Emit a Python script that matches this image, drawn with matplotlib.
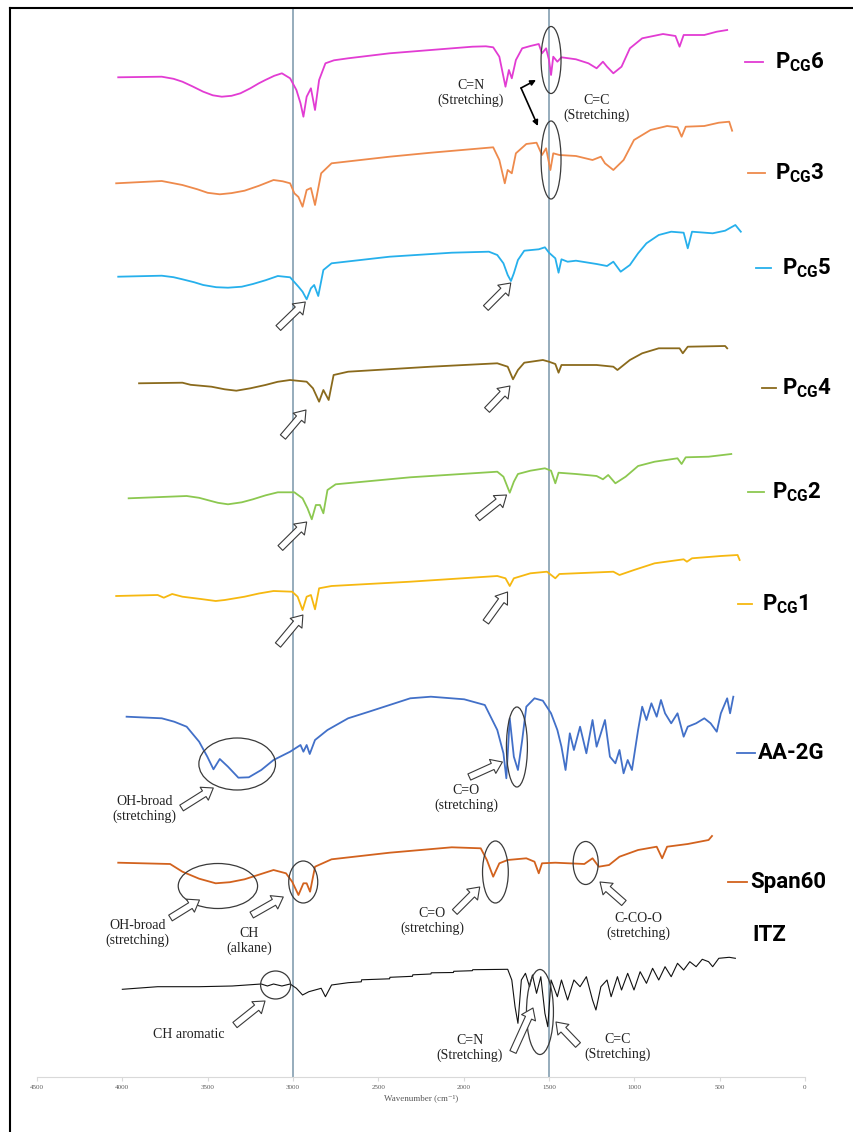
import numpy as np
import matplotlib.pyplot as plt
from matplotlib.patches import Ellipse
from matplotlib.lines import Line2D

plt.rcParams['mathtext.fontset'] = 'custom'
plt.rcParams['mathtext.rm'] = 'Roboto'
plt.rcParams['mathtext.bf'] = 'Roboto:bold'

# spectra: wavenumber (cm-1) and relative transmittance (a.u.)
pcg6_wn = [4024, 3769, 3700, 3648, 3590, 3526, 3470, 3417, 3360, 3308, 3250, 3200, 3162, 3110, 3065, 3017,
           2980, 2956, 2939, 2920, 2895, 2871, 2847, 2810, 2760, 2677, 2434, 2192, 1949, 1870, 1827, 1791,
           1767, 1755, 1735, 1718, 1694, 1657, 1609, 1560, 1541, 1517, 1500, 1488, 1475, 1451, 1427, 1342,
           1269, 1221, 1184, 1160, 1123, 1075, 1026, 954, 832, 759, 735, 711, 590, 517, 456]
pcg6_t = [0, 0.6, -1.5, -4.4, -9, -14.4, -18, -19.4, -18.5, -16, -11, -6, -2.7, 1.5, 4, -1,
          -12.7, -26, -39.4, -19.4, -11, -32.7, -2.7, 14, 17, 19, 24, 27.3, 30.6, 31, 30, 20.6,
          0.6, -9.4, 7.3, -1, 17.3, 29, 31.3, 33.3, 24, 29, 17.3, 2.3, 20.6, 15.6, 20, 18,
          14, 9, 15.6, 10.6, 4, 10.6, 29, 39, 43.3, 41.3, 30.6, 42.3, 42.3, 45.6, 47.3]

pcg3_wn = [4036, 3769, 3648, 3560, 3500, 3429, 3360, 3284, 3200, 3114, 3060, 3017, 2992, 2968, 2944, 2920,
           2895, 2871, 2835, 2774, 2434, 2192, 1827, 1791, 1759, 1742, 1718, 1694, 1633, 1573, 1541, 1517,
           1492, 1475, 1439, 1342, 1245, 1196, 1172, 1123, 1063, 1002, 905, 808, 747, 723, 699, 590, 505,
           444, 427]
pcg3_t = [0, 2.3, -1.7, -6, -9.5, -11, -9.8, -7.4, -2.5, 3.3, 2, 0, -10, -13.7, -23.4, -6.7,
          -4.7, -21.7, 10, 20, 26.6, 30.6, 36, 23.3, 0, 13.3, 10, 30, 39.3, 40.6, 28.3, 35,
          13.3, 30, 28.3, 27.3, 23.3, 26.6, 20, 13.3, 23.3, 43.3, 53.3, 57.3, 56, 46.6, 56.6, 57.3, 60.6,
          61.6, 52.6]

pcg5_wn = [4024, 3769, 3700, 3648, 3580, 3526, 3450, 3381, 3300, 3235, 3160, 3089, 3017, 2968, 2944, 2920,
           2895, 2876, 2852, 2822, 2774, 2434, 2070, 1852, 1803, 1767, 1742, 1723, 1706, 1682, 1645, 1560,
           1524, 1500, 1463, 1444, 1427, 1391, 1342, 1221, 1160, 1123, 1080, 1026, 978, 929, 857, 784, 711,
           687, 662, 541, 468, 408, 376]
pcg5_t = [0, 1, -0.5, -2.6, -5.5, -8.3, -10.5, -11, -10, -7.3, -3.5, 0.7, -0.6, -10, -15, -22.6,
          -11.6, -8.3, -19.3, 6.7, 13.4, 20, 24, 25, 21.7, 13.4, 1.7, -4.3, 3.4, 16.7, 26, 27.4,
          29.4, 24, 18.4, 4, 17.4, 15, 16, 12.7, 10.7, 15, 5, 11.7, 23.4, 33.4, 41.7, 45, 44,
          28.4, 45, 43.4, 46, 51.7, 45]

pcg4_wn = [3902, 3648, 3600, 3478, 3400, 3332, 3250, 3162, 3090, 3017, 2920, 2883, 2847, 2822, 2791, 2762,
           2677, 2192, 1803, 1742, 1711, 1682, 1645, 1536, 1500, 1463, 1444, 1427, 1221, 1123, 1099, 1026,
           954, 857, 735, 716, 687, 468, 456]
pcg4_t = [0, 0.6, -1.5, -3.4, -6, -7.4, -5, -1.7, 1.5, 3.3, 1.6, -5, -18.4, -6.7, -16.7, 8.3,
          11.6, 16.6, 20, 16.6, 4, 13.3, 20.6, 23.3, 21.6, 19.3, 10.6, 18.3, 18.3, 16.6, 13.3, 23.3,
          30, 35, 35, 30, 36.6, 37.3, 35]

pcg2_wn = [3963, 3623, 3550, 3502, 3440, 3381, 3300, 3235, 3160, 3089, 2992, 2944, 2915, 2890, 2866, 2842,
           2822, 2798, 2750, 2313, 1803, 1767, 1730, 1706, 1682, 1609, 1524, 1488, 1463, 1444, 1342, 1221,
           1184, 1153, 1111, 1051, 978, 881, 747, 723, 699, 565, 432]
pcg2_t = [0, 2.3, 0.5, -1.7, -4.5, -6, -4, -1, 3, 6, 6, 0, -10, -21, -6.7, -6.7,
          -15, 8.3, 14, 21, 26.6, 21.6, 5.6, 16.6, 24.3, 27.6, 30, 27.6, 15, 25.6, 24.3, 22.3,
          19, 23.3, 15, 21.6, 32.3, 36.6, 40, 34.3, 41, 41.6, 44.3]

pcg1_wn = [4036, 3793, 3757, 3708, 3648, 3540, 3453, 3400, 3284, 3200, 3114, 3005, 2973, 2944, 2920, 2895,
           2871, 2847, 2774, 2313, 1803, 1755, 1730, 1706, 1609, 1512, 1463, 1439, 1123, 1087, 1002, 881,
           711, 692, 662, 493, 395, 383]
pcg1_t = [0, 1, -1.7, 2, -0.7, -3, -5, -4, -0.7, 2.5, 5, 4.3, -0.7, -14, -0.7, 1,
          -13.3, 7.7, 10, 14.3, 20, 17.7, 10, 17.7, 22.7, 24.3, 17.7, 22, 24.3, 21, 26, 32.7,
          36.7, 34.3, 37.7, 40, 41, 36]

aa2g_wn = [3975, 3769, 3696, 3623, 3550, 3502, 3466, 3429, 3381, 3320, 3259, 3186, 3114, 3017, 2956, 2939,
           2920, 2902, 2871, 2798, 2677, 2555, 2434, 2313, 2192, 1997, 1876, 1803, 1767, 1750, 1730, 1706,
           1682, 1657, 1633, 1585, 1536, 1488, 1451, 1427, 1403, 1378, 1354, 1318, 1281, 1245, 1221, 1196,
           1172, 1143, 1111, 1087, 1063, 1039, 1014, 978, 954, 929, 900, 869, 844, 820, 784, 747, 711, 687,
           638, 590, 553, 517, 493, 456, 439, 420]
aa2g_t = [0, -1.6, -5, -10, -25, -40, -52.6, -42.3, -50, -61, -60.6, -53.3, -43.3, -35, -28.3, -35,
          -28.3, -37.3, -23.3, -13.3, -1.6, 5, 11.7, 18.4, 20, 17.4, 11.7, -13.3, -36.6, -61.6, -1.6, -40,
          -53.3, -23.3, 10, 18.4, 16, 3.4, -13.3, -30, -53.3, -16.6, -33.3, -10, -36.6, -3.3, -30, -16.6,
          -3.3, -40, -46.6, -33.3, -56.6, -43.3, -53.3, -13.3, 10, -3.3, 13.4, 0, 16.7, 3.4, -6.6, 3.4, -20, -10,
          -6.6, -1.6, -6.6, -15, 3.4, 18.4, 3.4, 20]

span_wn = [4024, 3720, 3648, 3550, 3453, 3370, 3284, 3200, 3114, 3041, 3005, 2968, 2939, 2920, 2900, 2871,
           2774, 2434, 2070, 1900, 1864, 1827, 1791, 1742, 1633, 1585, 1560, 1541, 1463, 1293, 1245, 1208,
           1148, 1087, 978, 869, 837, 808, 687, 565, 545]
span_t = [0, -1.3, -9, -16, -20.6, -19.5, -16.6, -12, -7.3, -10.6, -19, -32.3, -20.6, -20.6, -29, -4,
          3.4, 10, 15.4, 14.4, 2.7, -14, -0.6, 2.7, 4.4, 1, -10.6, -0.6, 0, -1.3, 4.4, -4,
          -2.3, 6, 12.7, 16, 4.4, 16, 18.7, 22.7, 26.7]

itz_wn = [4000, 3793, 3550, 3356, 3186, 3150, 3114, 3065, 3017, 2980, 2944, 2907, 2871, 2835, 2810, 2774,
          2677, 2600, 2598, 2434, 2432, 2300, 2298, 2192, 2190, 2060, 2058, 1949, 1947, 1742, 1718, 1699,
          1682, 1662, 1638, 1614, 1597, 1573, 1548, 1524, 1507, 1488, 1451, 1427, 1391, 1354, 1318, 1281,
          1245, 1225, 1196, 1160, 1136, 1099, 1075, 1039, 1002, 966, 929, 893, 857, 820, 784, 747, 711,
          675, 638, 602, 565, 541, 505, 444, 408]
itz_t = [0, 2.6, 2.6, 3.3, 5.3, 3.3, 5.3, 3.3, 5.3, 1, -5.7, -2.4, -0.7, 1, -7.4, 4.3,
         6.6, 7.5, 9.5, 10.5, 12, 13, 14.5, 15.3, 16.5, 16.8, 18, 18.6, 19.6, 20, 9.3, -17.4,
         -34, 9.3, 16, 2.6, 14.3, -4, 12.6, -24, -37.4, 9.3, -7.4, 9.3, -10.7, 9.3, 2.6, 12.6,
         -10.7, -20.7, 2.6, 9.3, -7.4, 12.6, -0.7, 16, -0.7, 17.6, 6, 21, 9.3, 22.6, 12.6, 26, 19.3,
         27.6, 22.6, 30, 27.6, 22.6, 31, 32, 31]

names = ['PCG6', 'PCG3', 'PCG5', 'PCG4', 'PCG2', 'PCG1', 'AA-2G', 'Span60', 'ITZ']
labels = [r'$\mathbf{P_{CG}6}$', r'$\mathbf{P_{CG}3}$', r'$\mathbf{P_{CG}5}$', r'$\mathbf{P_{CG}4}$',
          r'$\mathbf{P_{CG}2}$', r'$\mathbf{P_{CG}1}$', 'AA-2G', 'Span60', 'ITZ']
all_wn = [pcg6_wn, pcg3_wn, pcg5_wn, pcg4_wn, pcg2_wn, pcg1_wn, aa2g_wn, span_wn, itz_wn]
all_t = [pcg6_t, pcg3_t, pcg5_t, pcg4_t, pcg2_t, pcg1_t, aa2g_t, span_t, itz_t]
ticks = [4500, 4000, 3500, 3000, 2500, 2000, 1500, 1000, 500, 0]

# stacking offsets and styling
levels = [999.7, 893.7, 800.3, 693.7, 578.7, 481, 360.3, 214.3, 87.7]
colors = ['#E23CD3', '#EE8A4C', '#26B0EC', '#8A6A1C', '#8CC850', '#F6B810', '#4270C8', '#D2621E', '#111111']
widths = [1.3, 1.3, 1.3, 1.3, 1.3, 1.3, 1.3, 1.3, 0.8]

fig = plt.figure(figsize=(8.54, 11.32), dpi=100)
ax = fig.add_axes([37 / 854, 55 / 1132, 768 / 854, 1077 / 1132])
ax.set_xlim(4500, 0)
ax.set_ylim(0, 1077)

for wn, t, lev, c, lw in zip(all_wn, all_t, levels, colors, widths):
    ax.plot(wn, lev + np.array(t), color=c, lw=lw, zorder=3)

for x in (3000, 1500):
    ax.axvline(x, ymin=0, ymax=1069 / 1077, color='#8DA6B6', lw=1.3, zorder=2)

serif = ['Liberation Serif', 'DejaVu Serif']
for s in ['top', 'left', 'right']:
    ax.spines[s].set_visible(False)
ax.spines['bottom'].set_color('#d9d9d9')
ax.set_yticks([])
ax.set_xticks(ticks)
ax.set_xticklabels([str(t) for t in ticks], fontsize=5, color='#595959', family=serif)
ax.tick_params(axis='x', length=3, color='#d9d9d9', pad=3)
ax.set_xlabel('Wavenumber (cm⁻¹)', fontsize=6.5, color='#595959', family=serif, labelpad=3)

# right side legend-like labels
dash_x = [(352, 246), (334, 234), (287, 199), (252, 170), (334, 240), (393, 311), (398, 293), (451, 340), None]
text_x = [176, 176, 135, 135, 193, 252, 275, 322, 311]
label_y = [1015, 904, 809, 689, 585, 473, 324, 195, 142]
for i in range(len(names)):
    if dash_x[i] is not None:
        ax.plot(dash_x[i], [label_y[i], label_y[i]], color=colors[i], lw=1.3, clip_on=False)
    ax.text(text_x[i], label_y[i], labels[i], fontsize=16, fontweight='bold', family='Roboto',
            va='center', ha='left', clip_on=False)

# ellipses
ell = [(1488, 1017, 117, 67), (1488, 917, 117, 78), (3327, 313, 449, 52), (1688, 330, 123, 80),
       (3440, 191, 465, 45), (2940, 195, 170, 42), (1814, 205, 151, 62), (1285, 214, 147, 43),
       (3102, 92, 176, 28), (1553, 65, 158, 85)]
for cx, cy, w, h in ell:
    ax.add_patch(Ellipse((cx, cy), w, h, fill=False, ec='#3a3a3a', lw=0.9, zorder=4))

# hollow block arrows (tail -> tip)
blocks = [((3086, 749), (2928, 775)), ((1870, 769), (1724, 794)),
          ((3059, 640), (2924, 667)), ((1863, 667), (1729, 691)),
          ((3074, 529), (2920, 555)), ((1919, 559), (1749, 582)),
          ((3088, 432), (2942, 462)), ((1870, 455), (1743, 485)),
          ((3653, 269), (3467, 289)), ((1967, 300), (1773, 315)),
          ((3718, 159), (3548, 177)), ((3242, 162), (3057, 180)),
          ((2052, 165), (1906, 190)), ((1061, 174), (1201, 195)),
          ((3340, 52), (3164, 76)), ((1711, 25), (1594, 69)), ((1330, 32), (1459, 55))]
for tail, tip in blocks:
    ax.annotate('', xy=tip, xytext=tail,
                arrowprops=dict(arrowstyle='simple,head_length=0.35,head_width=0.5,tail_width=0.22',
                                fc='white', ec='#3a3a3a', lw=0.8, mutation_scale=22,
                                shrinkA=0, shrinkB=0), zorder=5)

# bent double arrow between the two ellipses
for tip in [(1576, 997), (1565, 951)]:
    ax.annotate('', xy=tip, xytext=(1664, 989),
                arrowprops=dict(arrowstyle='-|>', color='black', lw=1.2, mutation_scale=8,
                                shrinkA=0, shrinkB=0))

notes = [('C=N\n(Stretching)', 1957, 984), ('C=C\n(Stretching)', 1219, 969),
         ('OH-broad\n(stretching)', 3868, 268), ('C=O\n(stretching)', 1987, 279),
         ('OH-broad\n(stretching)', 3909, 144), ('CH\n(alkane)', 3258, 136),
         ('C=O\n(stretching)', 2186, 156), ('C-CO-O\n(stretching)', 979, 151),
         ('CH aromatic', 3608, 42), ('C=N\n(Stretching)', 1963, 29), ('C=C\n(Stretching)', 1096, 30)]
for txt, x, y in notes:
    ax.text(x, y, txt, fontsize=10, family=serif, ha='center', va='center', linespacing=1.1, color='#222222')

# outer frame (left and top edges)
fig.add_artist(Line2D([10 / 854, 10 / 854], [0, 1 - 8 / 1132], color='black', lw=1.5))
fig.add_artist(Line2D([10 / 854, 1], [1 - 8 / 1132, 1 - 8 / 1132], color='black', lw=1.5))

fig.savefig('out.png', dpi=100)
